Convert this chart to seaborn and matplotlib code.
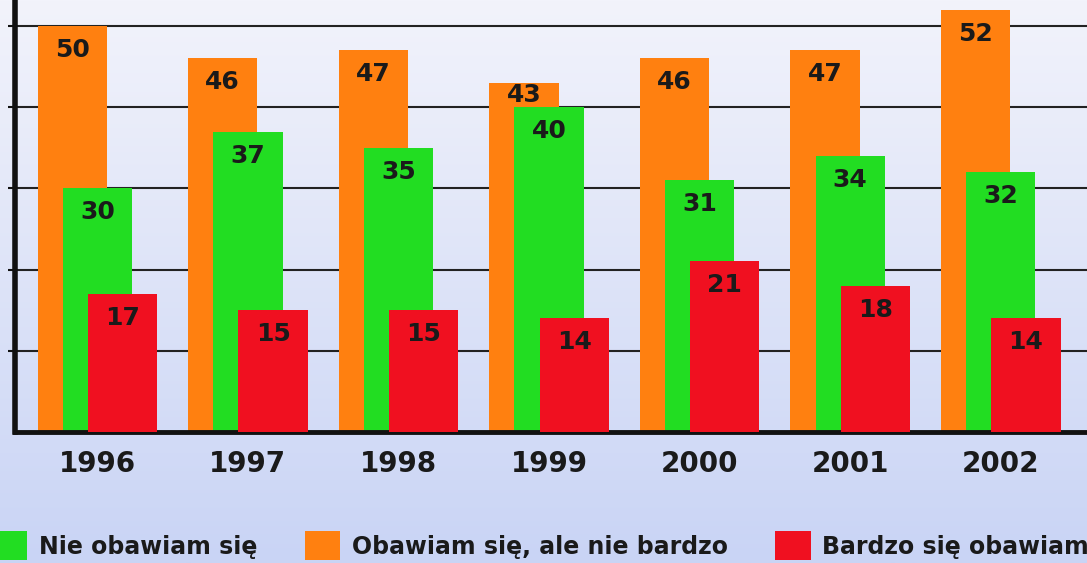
import numpy as np
import pandas as pd
import matplotlib.pyplot as plt
import seaborn as sns
from matplotlib.colors import LinearSegmentedColormap
from matplotlib.patches import Patch

years = ['1996', '1997', '1998', '1999', '2000', '2001', '2002']
nie_obawiam = [30, 37, 35, 40, 31, 34, 32]
obawiam_ale = [50, 46, 47, 43, 46, 47, 52]
bardzo = [17, 15, 15, 14, 21, 18, 14]

series_names = ['Nie obawiam się', 'Obawiam się, ale nie bardzo', 'Bardzo się obawiam']
colors = ['#22dd22', '#ff8010', '#f01020']

sns.set_theme(style='white')
plt.rcParams['font.family'] = ['DejaVu Sans']

fig = plt.figure(figsize=(10.87, 5.63), dpi=100)

# soft background gradient
bg = fig.add_axes([0, 0, 1, 1], zorder=-1)
grad = np.linspace(0, 1, 256).reshape(-1, 1)
cmap = LinearSegmentedColormap.from_list('bg', ['#f2f3fb', '#c9d4f5'])
bg.imshow(grad, aspect='auto', cmap=cmap, extent=[0, 1, 0, 1])
bg.axis('off')

ax = fig.add_axes([0.0138, 0.2327, 0.99, 0.7673])
ax.patch.set_alpha(0)

pos = np.arange(len(years))
shift = 0.167
# back to front: orange, green, red
layers = [
    (obawiam_ale, -shift, colors[1], 1, nie_obawiam),
    (nie_obawiam, 0.0, colors[0], 2, bardzo),
    (bardzo, shift, colors[2], 3, None),
]
for vals, off, col, z, front in layers:
    df = pd.DataFrame({'x': pos + off, 'y': vals})
    sns.barplot(data=df, x='x', y='y', native_scale=True, width=0.46,
                color=col, saturation=1, linewidth=0, ax=ax, zorder=z)
    for i, v in enumerate(vals):
        dy = 24
        if front is not None and v - front[i] < 5:
            dy = 12
        ax.annotate(str(v), (pos[i] + off, v), xytext=(0, -dy),
                    textcoords='offset pixels', ha='center', va='center',
                    fontsize=18, fontweight='bold', color='#1a1a1a', zorder=10)

ax.set_xlim(-0.547, 6.6)
ax.set_ylim(0, 53.2)
ax.set_xticks(pos)
ax.set_xticklabels(years, fontsize=20, fontweight='bold', color='#1a1a1a')
ax.set_yticks([10, 20, 30, 40, 50])
ax.set_yticklabels([])
ax.set_xlabel('')
ax.set_ylabel('')
ax.grid(axis='y', color='#222222', linewidth=1.5)
ax.grid(axis='x', visible=False)
ax.set_axisbelow(True)
ax.tick_params(axis='x', length=0, pad=13)
ax.tick_params(axis='y', direction='out', length=5, width=1.5, color='#111111', left=True)

for s in ['top', 'right']:
    ax.spines[s].set_visible(False)
ax.spines['left'].set_color('#111111')
ax.spines['left'].set_linewidth(4)
ax.spines['bottom'].set_color('#111111')
ax.spines['bottom'].set_linewidth(3.5)

handles = [Patch(facecolor=c, edgecolor='none') for c in colors]
fig.legend(handles, series_names, loc='lower left', bbox_to_anchor=(-0.0074, 0.005),
           ncol=3, frameon=False, prop={'size': 17, 'weight': 'bold'},
           labelcolor='#1a1a1a', handlelength=1.5, handleheight=1.5,
           handletextpad=0.5, columnspacing=2.0, borderpad=0, borderaxespad=0)

fig.savefig('out.png', dpi=100)
